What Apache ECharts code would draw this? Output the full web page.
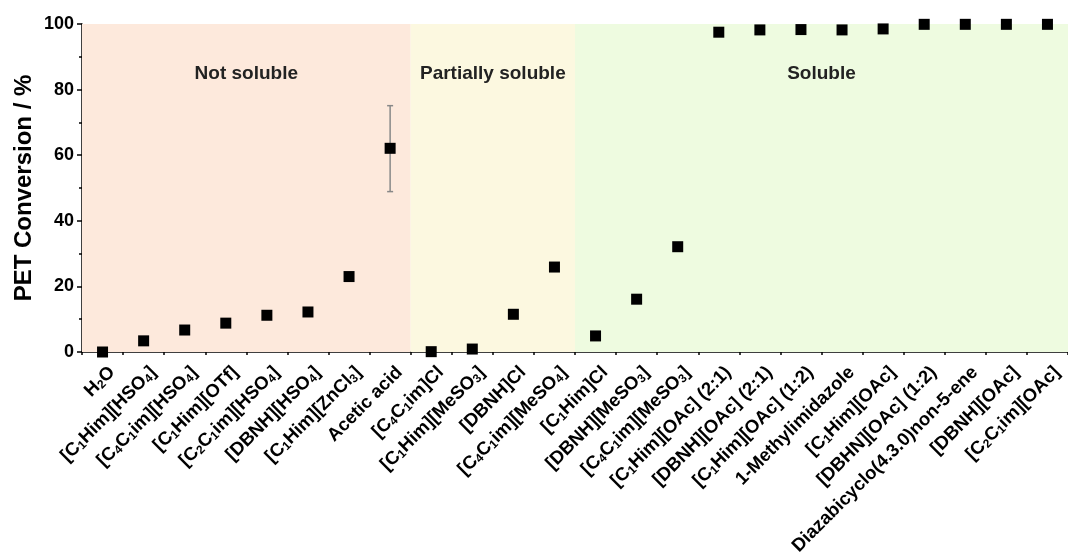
<!DOCTYPE html>
<html>
<head>
<meta charset="utf-8">
<script src="https://cdn.jsdelivr.net/npm/echarts@6/dist/echarts.min.js"></script>
<style>
  html, body { margin: 0; padding: 0; background: #fff; }
  #chart { width: 1068px; height: 560px; }
</style>
</head>
<body>
<div id="chart"></div>
<script>
// '_n' means subscript n
var categories = [
  'H_2O', '[C_1Him][HSO_4]', '[C_4C_1im][HSO_4]', '[C_1Him][OTf]', '[C_2C_1im][HSO_4]',
  '[DBNH][HSO_4]', '[C_1Him][ZnCl_3]', 'Acetic acid',
  '[C_4C_1im]Cl', '[C_1Him][MeSO_3]', '[DBNH]Cl', '[C_4C_1im][MeSO_4]',
  '[C_1Him]Cl', '[DBNH][MeSO_3]', '[C_4C_1im][MeSO_3]', '[C_1Him][OAc] (2:1)',
  '[DBNH][OAc] (2:1)', '[C_1Him][OAc] (1:2)', '1-Methylimidazole', '[C_1Him][OAc]',
  '[DBHN][OAc] (1:2)', 'Diazabicyclo(4.3.0)non-5-ene', '[DBNH][OAc]', '[C_2C_1im][OAc]'
]
var conversion = [
  0, 3.4, 6.7, 8.8, 11.2, 12.2, 23.0, 62.1,
  0.1, 0.9, 11.5, 25.9,
  4.9, 16.1, 32.1, 97.5, 98.2, 98.3, 98.2, 98.5, 99.9, 99.9, 99.9, 99.9
]
// error bar [category index, low, high]
var errorBars = [[7, 48.9, 75.1]]
// solubility regions as [startIndex, endIndex (exclusive), name]
var regions = [
  [0, 8, 'Not soluble'],
  [8, 12, 'Partially soluble'],
  [12, 24, 'Soluble']
]
var regionColors = ['#fde9dc', '#fcf8e0', '#eefbe0']

var chart = echarts.init(document.getElementById('chart'))

var font = 'Liberation Sans, Arial, sans-serif'

function fmtLabel(s) {
  return s.replace(/_(\d)/g, '{s|$1}').replace(/(^|\})([^{}]+)(?=\{|$)/g, function (m, p, t) {
    return p + '{b|' + t + '}'
  })
}

chart.setOption({
  animation: false,
  grid: { left: 82, right: 0, top: 24, bottom: 208, outerBoundsMode: 'none', containLabel: false },
  xAxis: [{
    type: 'category',
    data: categories,
    boundaryGap: true,
    axisLine: { lineStyle: { color: '#000', width: 1.5 } },
    axisTick: { alignWithLabel: true, length: 5, lineStyle: { color: '#000', width: 1.5 } },
    axisLabel: {
      interval: 0,
      rotate: 45,
      margin: 8,
      padding: [26, 0, 0, 0],
      formatter: fmtLabel,
      rich: {
        b: { fontFamily: font, fontWeight: 'bold', fontSize: 18.5, color: '#000', lineHeight: 20, verticalAlign: 'bottom' },
        s: { fontFamily: font, fontWeight: 'bold', fontSize: 12, color: '#000', lineHeight: 13, verticalAlign: 'bottom', padding: [7, 0, 0, 0] }
      }
    }
  }, {
    type: 'value',
    min: 0,
    max: 24,
    show: false
  }, {
    type: 'value',
    min: 0,
    max: 24,
    position: 'bottom',
    interval: 1,
    axisLine: { show: false },
    axisTick: { show: true, length: 3, lineStyle: { color: '#000', width: 1.5 } },
    axisLabel: { show: false },
    splitLine: { show: false }
  }],
  yAxis: {
    type: 'value',
    min: 0,
    max: 100,
    interval: 20,
    name: 'PET Conversion / %',
    nameLocation: 'middle',
    nameGap: 46,
    nameMoveOverlap: false,
    nameTextStyle: { fontFamily: font, fontWeight: 'bold', fontSize: 24, color: '#000' },
    axisLine: { show: true, lineStyle: { color: '#000', width: 1.5 } },
    axisTick: { show: true, length: 5, lineStyle: { color: '#000', width: 1.5 } },
    minorTick: { show: true, splitNumber: 2, length: 3, lineStyle: { color: '#000', width: 1.5 } },
    axisLabel: { fontFamily: font, fontWeight: 'bold', fontSize: 18, color: '#000', margin: 8 },
    splitLine: { show: false }
  },
  series: [{
    type: 'scatter',
    xAxisIndex: 1,
    data: [],
    silent: true,
    markArea: {
      silent: true,
      data: regions.map(function (r, i) {
        return [{
          xAxis: r[0],
          yAxis: 100,
          name: r[2],
          itemStyle: { color: regionColors[i] },
          label: {
            show: true,
            position: 'insideTop',
            distance: 40,
            fontFamily: font,
            fontWeight: 'bold',
            fontSize: 19,
            color: '#222'
          }
        }, { xAxis: r[1], yAxis: 0 }]
      })
    }
  }, {
    type: 'custom',
    xAxisIndex: 0,
    z: 3,
    renderItem: function (params, api) {
      var x = api.value(0)
      var lo = api.coord([x, api.value(1)])
      var hi = api.coord([x, api.value(2)])
      var style = { stroke: '#888', lineWidth: 1.5 }
      return {
        type: 'group',
        children: [
          { type: 'line', shape: { x1: lo[0], y1: lo[1], x2: hi[0], y2: hi[1] }, style: style },
          { type: 'line', shape: { x1: lo[0] - 3, y1: lo[1], x2: lo[0] + 3, y2: lo[1] }, style: style },
          { type: 'line', shape: { x1: hi[0] - 3, y1: hi[1], x2: hi[0] + 3, y2: hi[1] }, style: style }
        ]
      }
    },
    data: errorBars
  }, {
    type: 'scatter',
    xAxisIndex: 0,
    z: 4,
    symbol: 'rect',
    symbolSize: 11,
    itemStyle: { color: '#000', opacity: 1 },
    data: conversion
  }]
})
</script>
</body>
</html>
